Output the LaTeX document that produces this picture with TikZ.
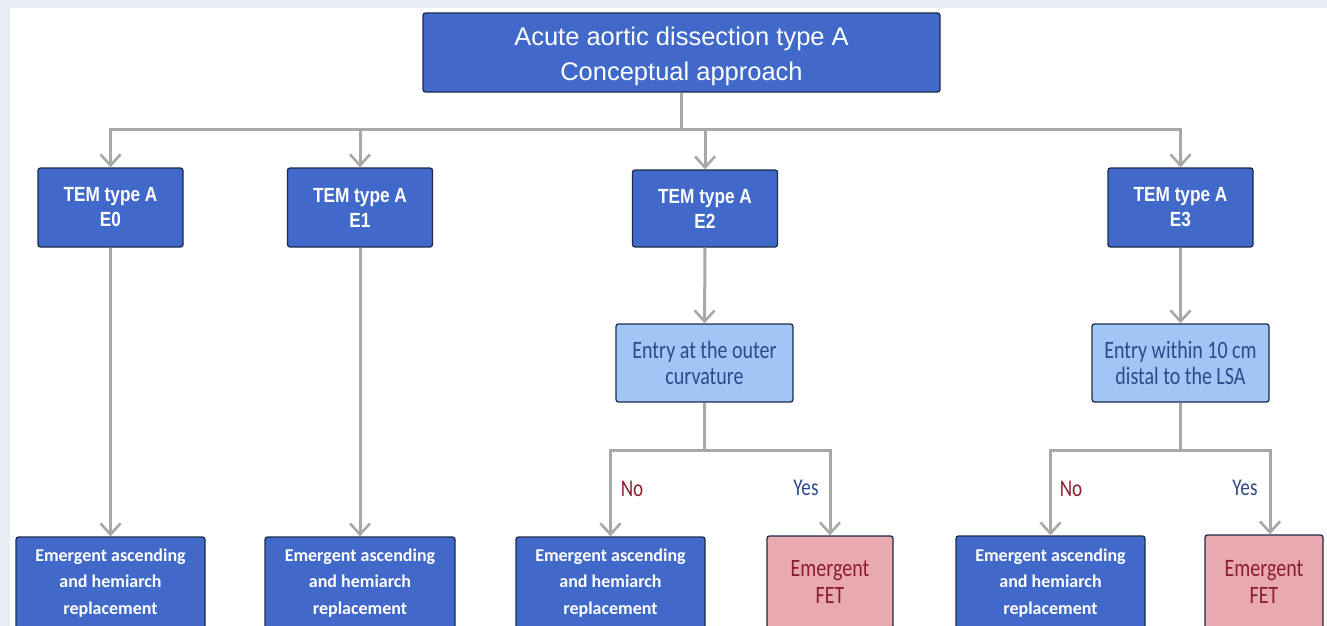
\documentclass[tikz,border=0pt]{standalone}
\usepackage{fontspec}
\setmainfont{Carlito}
\newfontfamily\arialf{Liberation Sans}
\newfontfamily\temf[FakeStretch=0.84]{Liberation Sans}
\newfontfamily\condf[FakeStretch=0.8]{Carlito}
\usetikzlibrary{arrows.meta}
\definecolor{bgl}{HTML}{E8EEF4}
\definecolor{dblue}{HTML}{4169C9}
\definecolor{navy}{HTML}{1E2B4A}
\definecolor{lblue}{HTML}{9FC6F5}
\definecolor{ltext}{HTML}{2C4A8A}
\definecolor{pinkf}{HTML}{E8AAAF}
\definecolor{rtext}{HTML}{8B1E2E}
\definecolor{connc}{HTML}{A8A8A8}
\tikzset{
  basebox/.style={draw=navy, line width=1.3pt, rounded corners=2.5pt, inner sep=0pt, align=center},
  darkbox/.style={basebox, fill=dblue, text=white},
  lightbox/.style={basebox, fill=lblue, text=ltext},
  pinkbox/.style={basebox, fill=pinkf, text=rtext},
  conn/.style={draw=connc, line width=3pt},
  arr/.style={conn, -{Straight Barb[length=11pt,width=20pt,line width=2.6pt]}},
  nolab/.style={text=rtext, font=\condf\fontsize{24}{26}\selectfont},
  yeslab/.style={text=ltext, font=\condf\fontsize{24}{26}\selectfont},
}
\begin{document}
\begin{tikzpicture}[x=1pt,y=-1pt]
\useasboundingbox (0,0) rectangle (1327,626);
\clip (0,0) rectangle (1327,626);
\fill[bgl] (0,0) rectangle (1327,626);
\fill[white] (10,8) rectangle (1327,626);

% top
\node[darkbox, minimum width=517pt, minimum height=79pt, font=\arialf\fontsize{25.5}{34}\selectfont] (top) at (681.5,52.5) {\raisebox{-3.5pt}[\height][\depth]{\begin{tabular}{@{}c@{}}Acute aortic dissection type A\\[1pt]Conceptual approach\end{tabular}}};

% TEM boxes
\tikzset{tembox/.style={darkbox, minimum width=145pt, minimum height=79pt, font=\temf\bfseries\fontsize{20.5}{25}\selectfont}}
\node[tembox] (e0) at (110.5,207.5) {TEM type A\\E0};
\node[tembox] (e1) at (360,207.5) {TEM type A\\E1};
\node[tembox, minimum height=77pt] (e2) at (705,208.5) {TEM type A\\E2};
\node[tembox] (e3) at (1180.5,207.5) {TEM type A\\E3};

% decision boxes
\tikzset{decbox/.style={lightbox, minimum width=177pt, minimum height=78pt, font=\condf\fontsize{25}{26}\selectfont}}
\node[decbox] (d2) at (704.5,363) {Entry at the outer\\curvature};
\node[decbox] (d3) at (1180.5,363) {Entry within 10 cm\\distal to the LSA};

% bottom boxes
\tikzset{botbox/.style={darkbox, minimum width=189pt, minimum height=92pt, font=\bfseries\fontsize{18}{26.5}\selectfont}}
\node[botbox] (b0) at (110.5,583) {Emergent ascending\\and hemiarch\\replacement};
\node[botbox, minimum width=190pt] (b1) at (360,583) {Emergent ascending\\and hemiarch\\replacement};
\node[botbox] (b2) at (610.5,583) {Emergent ascending\\and hemiarch\\replacement};
\node[botbox, minimum height=94pt] (b3) at (1050.5,583) {Emergent ascending\\and hemiarch\\replacement};
\tikzset{fetbox/.style={pinkbox, minimum height=92pt, font=\condf\fontsize{25}{27}\selectfont}}
\node[fetbox, minimum width=126pt] (f2) at (830,582) {Emergent\\FET};
\node[fetbox, minimum width=118pt, minimum height=94pt] (f3) at (1264,582) {Emergent\\FET};

% connectors
\coordinate (bus) at (681.5,129);
\draw[conn] (top.south) -- (bus);
\draw[arr] (bus) -| (e0.north);
\draw[arr] (bus) -| (e1.north);
\draw[arr] (bus) -| (e2.north);
\draw[arr] (bus) -| (e3.north);

\draw[arr] (e0.south) -- (b0.north);
\draw[arr] (e1.south) -- (b1.north);
\draw[arr] (e2.south) -- (d2.north);
\draw[arr] (e3.south) -- (d3.north);

\coordinate (s2) at (704.5,450);
\draw[conn] (d2.south) -- (s2);
\draw[arr] (s2) -| (b2.north);
\draw[arr] (s2) -| (f2.north);

\coordinate (s3) at (1180.5,450);
\coordinate (t3) at (1270,0);
\draw[conn] (d3.south) -- (s3);
\draw[arr] (s3) -| (b3.north);
\draw[arr] (s3) -| (f3.north -| t3);

% labels
\node[nolab] (no2) at (632,489) {No};
\node[yeslab] (yes2) at (806,488) {Yes};
\node[nolab] (no3) at (1071,489) {No};
\node[yeslab] (yes3) at (1245,488) {Yes};
\end{tikzpicture}
\end{document}
